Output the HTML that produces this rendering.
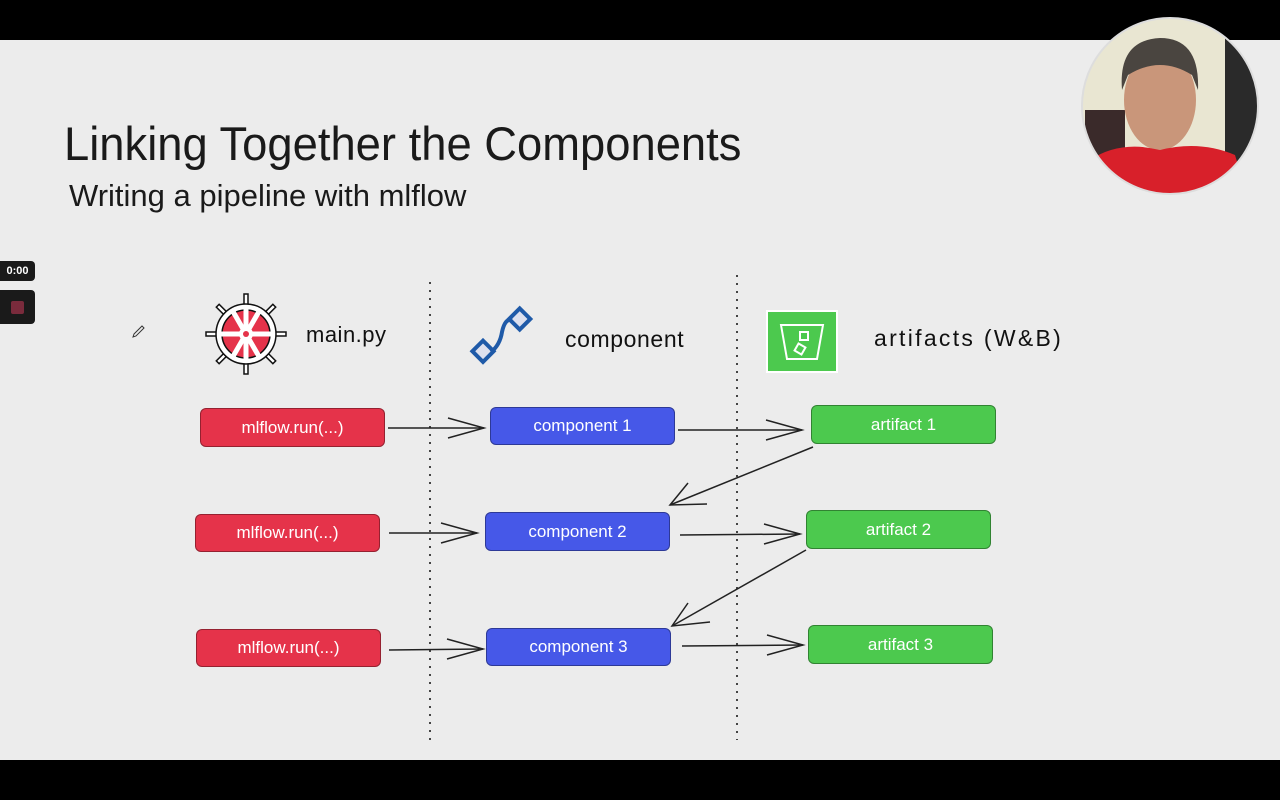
<!DOCTYPE html>
<html><head><meta charset="utf-8"><style>
html,body{margin:0;padding:0;width:1280px;height:800px;overflow:hidden;background:#ececec;font-family:"Liberation Sans",sans-serif}
.bar{position:absolute;left:0;width:1280px;background:#000}
.t{position:absolute;color:#111;white-space:nowrap}
.box{position:absolute;border-radius:6px;color:#fff;font-size:17px;display:flex;align-items:center;justify-content:center;box-sizing:border-box;border:1.5px solid rgba(0,0,0,.35)}
.r{background:#e5334a}.b{background:#4658e8}.g{background:#4cc94e}
</style></head><body>
<div class="bar" style="top:0;height:40px"></div>
<div class="bar" style="top:760px;height:40px"></div>
<div class="t" style="left:64px;top:116px;font-size:47px;color:#1a1a1a;transform:scaleX(0.965);transform-origin:0 0">Linking Together the Components</div>
<div class="t" style="left:69px;top:178px;font-size:31px;color:#1a1a1a">Writing a pipeline with mlflow</div>

<div style="position:absolute;left:0;top:261px;width:35px;height:20px;background:#1a1a1a;border-radius:0 4px 4px 0;color:#fff;font-size:11px;font-weight:bold;line-height:20px;text-align:center">0:00</div>
<div style="position:absolute;left:0;top:290px;width:35px;height:34px;background:#1a1a1a;border-radius:0 4px 4px 0"><div style="position:absolute;left:11px;top:11px;width:13px;height:13px;background:#7a2b3c;border-radius:2px"></div></div>

<svg width="1280" height="800" style="position:absolute;left:0;top:0">
<defs><clipPath id="cc"><circle cx="1170" cy="106" r="88"/></clipPath></defs>
<g clip-path="url(#cc)">
<rect x="1080" y="15" width="180" height="190" fill="#e9e6d2"/>
<rect x="1225" y="15" width="40" height="190" fill="#2a2a2a"/>
<rect x="1085" y="110" width="40" height="60" fill="#3a2a2a"/>
<ellipse cx="1160" cy="100" rx="36" ry="50" fill="#c9967a"/>
<path d="M1122 90 Q1118 40 1160 38 Q1200 38 1198 90 L1192 75 Q1160 55 1128 75Z" fill="#4a4540"/>
<path d="M1080 205 L1090 160 Q1120 140 1160 150 Q1200 140 1235 155 L1250 205Z" fill="#d8202a"/>
</g>
<circle cx="1170" cy="106" r="88" fill="none" stroke="#ddd" stroke-width="2"/>

<path d="M134 334 l8 -8 l2 2 l-8 8 l-3 1z" fill="none" stroke="#333" stroke-width="1"/>

<line x1="430" y1="282" x2="430" y2="746" stroke="#444" stroke-width="2" stroke-dasharray="2 6"/>
<line x1="737" y1="275" x2="737" y2="740" stroke="#444" stroke-width="2" stroke-dasharray="2 6"/>

<g transform="translate(246,334)" stroke="#111" stroke-width="1.5">
<g fill="#fff">
<rect x="-2" y="-40" width="4" height="80"/>
<rect x="-2" y="-40" width="4" height="80" transform="rotate(45)"/>
<rect x="-2" y="-40" width="4" height="80" transform="rotate(90)"/>
<rect x="-2" y="-40" width="4" height="80" transform="rotate(135)"/>
</g>
<circle r="30" fill="#fff"/>
<circle r="24" fill="#e5334a"/>
<g stroke="#fff" stroke-width="5">
<line x1="0" y1="-25" x2="0" y2="25"/><line x1="-25" y1="0" x2="25" y2="0" transform="rotate(60)"/><line x1="-25" y1="0" x2="25" y2="0" transform="rotate(-60)"/>
<line x1="-25" y1="0" x2="25" y2="0"/>
</g>
<circle r="7" fill="#fff" stroke="none"/><circle r="3" fill="#e5334a" stroke="none"/>
</g>
<g fill="#dde0ee" stroke="#1f5aa8" stroke-width="4">
<rect x="476" y="344" width="15" height="15" transform="rotate(-45 483 352)"/>
<rect x="512" y="312" width="15" height="15" transform="rotate(-45 519 319)"/>
<path d="M491 352 Q500 345 502 332 Q505 318 512 320" fill="none"/>
</g>
<rect x="767" y="311" width="70" height="61" fill="#4cc94e" stroke="#fff" stroke-width="2"/>
<path d="M781 325 L823 325 L817 359 L787 359Z" fill="none" stroke="#fff" stroke-width="2"/>
<rect x="800" y="332" width="8" height="8" fill="none" stroke="#fff" stroke-width="2"/>
<rect x="796" y="345" width="8" height="8" fill="none" stroke="#fff" stroke-width="2" transform="rotate(30 800 349)"/>

<g stroke="#222" stroke-width="1.5" fill="none">
<line x1="388" y1="428" x2="484" y2="428"/><polyline points="448,418 484,428 448,438"/>
<line x1="678" y1="430" x2="802" y2="430"/><polyline points="766,420 802,430 766,440"/>
<line x1="813" y1="447" x2="670" y2="505"/><polyline points="688,483 670,505 707,504"/>
<line x1="389" y1="533" x2="477" y2="533"/><polyline points="441,523 477,533 441,543"/>
<line x1="680" y1="535" x2="800" y2="534"/><polyline points="764,524 800,534 764,544"/>
<line x1="806" y1="550" x2="672" y2="626"/><polyline points="688,603 672,626 710,622"/>
<line x1="389" y1="650" x2="483" y2="649"/><polyline points="447,639 483,649 447,659"/>
<line x1="682" y1="646" x2="803" y2="645"/><polyline points="767,635 803,645 767,655"/>
</g>
</svg>

<div class="t" style="left:306px;top:322px;font-size:22px;letter-spacing:0.5px">main.py</div>
<div class="t" style="left:565px;top:326px;font-size:23px;letter-spacing:0.6px">component</div>
<div class="t" style="left:874px;top:325px;font-size:23px;letter-spacing:2.3px">artifacts (W&amp;B)</div>

<div class="box r" style="left:200px;top:408px;width:185px;height:39px">mlflow.run(...)</div>
<div class="box r" style="left:195px;top:514px;width:185px;height:38px">mlflow.run(...)</div>
<div class="box r" style="left:196px;top:629px;width:185px;height:38px">mlflow.run(...)</div>
<div class="box b" style="left:490px;top:407px;width:185px;height:38px">component 1</div>
<div class="box b" style="left:485px;top:512px;width:185px;height:39px">component 2</div>
<div class="box b" style="left:486px;top:628px;width:185px;height:38px">component 3</div>
<div class="box g" style="left:811px;top:405px;width:185px;height:39px">artifact 1</div>
<div class="box g" style="left:806px;top:510px;width:185px;height:39px">artifact 2</div>
<div class="box g" style="left:808px;top:625px;width:185px;height:39px">artifact 3</div>
</body></html>
